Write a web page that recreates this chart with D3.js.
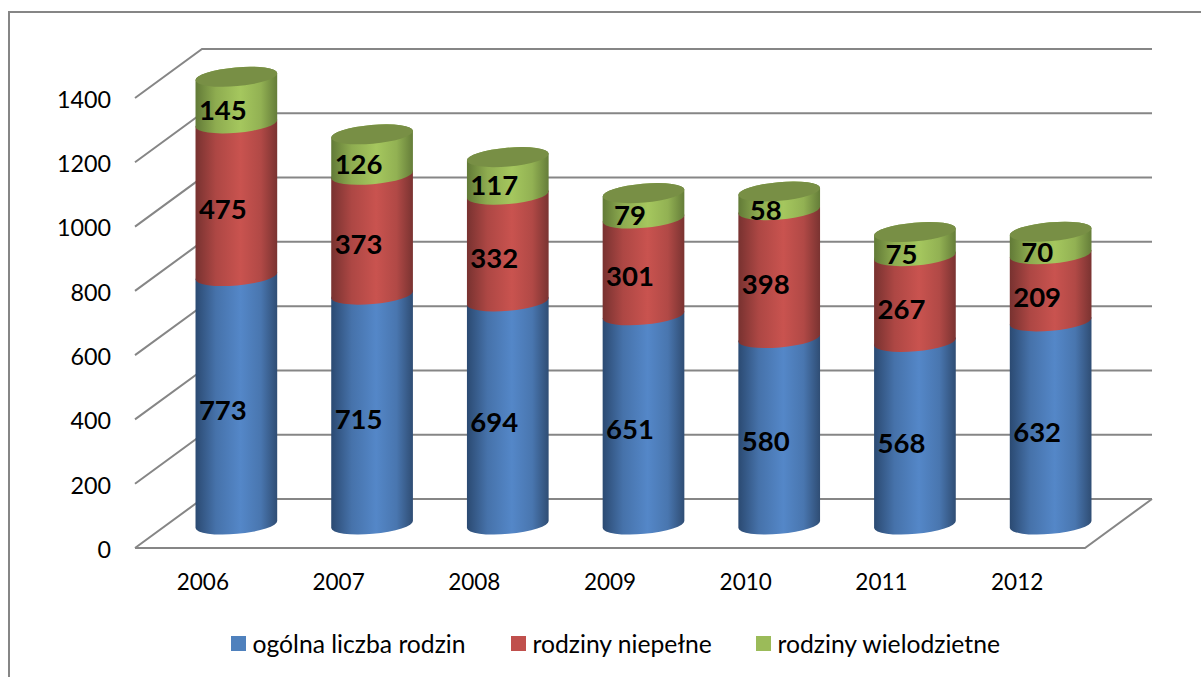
<!DOCTYPE html>
<html>
<head>
<meta charset="utf-8">
<script src="https://cdn.jsdelivr.net/npm/d3@7"></script>
<style>
	html,body{margin:0;padding:0;background:#fff;overflow:hidden;}
	text{font-family:Lato,"Open Sans",sans-serif;fill:#000;}
	.gridline{stroke:#868686;stroke-width:2;fill:none;}
	.value{font-weight:700;font-size:27.5px;text-anchor:middle;dominant-baseline:central;}
	.ylab .tick text{font-size:23.3px;}
	.xlab .tick text{font-size:22.5px;}
	.legend text{font-size:24.7px;}
</style>
</head>
<body>
<script>
var years = ['2006','2007','2008','2009','2010','2011','2012'];
var total = [773,715,694,651,580,568,632];
var single = [475,373,332,301,398,267,209];
var large = [145,126,117,79,58,75,70];
var yTicks = [0,200,400,600,800,1000,1200,1400];
var names = ['ogólna liczba rodzin','rodziny niepełne','rodziny wielodzietne'];
var legendX = [231,511,756];
var colors = [
	{id:'blue',edge:'#2b4a72',mid:'#5487c8',right:'#2f4d74',top:'#3f6797',swatch:'#4f81bd'},
	{id:'red',edge:'#783230',mid:'#c9534f',right:'#7a3331',top:'#9a403d',swatch:'#c0504d'},
	{id:'green',edge:'#627a37',mid:'#a5c75e',right:'#657d39',top:'#788f45',swatch:'#9bbb59'}
];

var W = 1201, H = 677;
var depth = {x:67,y:-49};
var rx = 41, ry = 9.4, tilt = -5;

var svg = d3.select('body').append('svg')
	.attr('width',W)
	.attr('height',H)
	.style('display','block');

var rows = years.map(function(y,i){
	return {year:y,total:total[i],single:single[i],large:large[i]};
});
var keys = ['total','single','large'];
var series = d3.stack().keys(keys)(rows);

var x = d3.scaleBand().domain(years).range([135,1085]).paddingInner(0.4).paddingOuter(0.2);
var y = d3.scaleLinear().domain([0,1400]).range([548,98]);

// cylinder centre sits half way into the depth of the floor
function cx(year){return x(year)+x.bandwidth()/2+depth.x/2;}
function cy(v){return y(v)+depth.y/2+1;}

var defs = svg.append('defs');
colors.forEach(function(c){
	var g = defs.append('linearGradient').attr('id','grad-'+c.id);
	[[0,c.edge],[0.25,d3.interpolateRgb(c.edge,c.mid)(0.65)],[0.55,c.mid],[0.8,d3.interpolateRgb(c.right,c.mid)(0.7)],[1,c.right]]
		.forEach(function(s){
			g.append('stop').attr('offset',s[0]).attr('stop-color',s[1]);
		});
});

// outer frame, runs off the right and bottom of the picture
svg.append('path')
	.attr('d','M'+W+',12H9V'+H)
	.attr('fill','none')
	.attr('stroke','#868686')
	.attr('stroke-width',2);

// gridlines: wall diagonal + back wall
var grid = svg.append('g');
grid.selectAll('.wall')
	.data(yTicks).enter()
	.append('path')
		.attr('class','gridline wall')
		.attr('d',function(d){
			return 'M'+x.range()[0]+','+y(d)
				+'L'+(x.range()[0]+depth.x)+','+(y(d)+depth.y)
				+'H'+(x.range()[1]+depth.x);
		});
// floor front and right edge
grid.append('path')
	.attr('class','gridline')
	.attr('d','M'+x.range()[0]+','+y(0)+'H'+x.range()[1]+'l'+depth.x+','+depth.y);

// y axis labels
var yAxis = svg.append('g')
	.attr('class','ylab')
	.attr('transform','translate(111,0)')
	.call(d3.axisLeft(y).tickValues(yTicks).tickSize(0).tickPadding(0).tickFormat(d3.format('d')));
yAxis.select('.domain').remove();
yAxis.selectAll('text').attr('dy','0.4em').style('fill','#000');

// x axis labels
var xAxis = svg.append('g')
	.attr('class','xlab')
	.attr('transform','translate(0,590)')
	.call(d3.axisBottom(x).tickSize(0).tickPadding(0));
xAxis.select('.domain').remove();
xAxis.selectAll('text').attr('dy',0).style('fill','#000');

function ends(year,v){
	var a = tilt*Math.PI/180;
	var c = cx(year), m = cy(v);
	var dx = rx*Math.cos(a), dy = rx*Math.sin(a);
	return {l:[c-dx,m-dy],r:[c+dx,m+dy]};
}
function segment(year,v0,v1){
	var b = ends(year,v0), t = ends(year,v1);
	return 'M'+b.l
		+'A'+rx+','+ry+' '+tilt+' 0 0 '+b.r
		+'L'+t.r
		+'A'+rx+','+ry+' '+tilt+' 0 0 '+t.l+'Z';
}
function topFace(year,v){
	var t = ends(year,v);
	return 'M'+t.l+'A'+rx+','+ry+' '+tilt+' 1 0 '+t.r+'A'+rx+','+ry+' '+tilt+' 1 0 '+t.l+'Z';
}

// bottom segment first, every upper one overlaps the one below
var layers = svg.selectAll('.layer')
	.data(series).enter()
	.append('g')
		.attr('class','layer');
layers.selectAll('path')
	.data(function(s,i){
		return s.map(function(d){return {year:d.data.year,v0:d[0],v1:d[1],i:i};});
	}).enter()
	.append('path')
		.attr('d',function(d){return segment(d.year,d.v0,d.v1);})
		.attr('fill',function(d){return 'url(#grad-'+colors[d.i].id+')';});

svg.selectAll('.cap')
	.data(series[2]).enter()
	.append('path')
		.attr('class','cap')
		.attr('d',function(d){return topFace(d.data.year,d[1]);})
		.attr('fill',colors[2].top);

// value labels
svg.selectAll('.valuegroup')
	.data(series).enter()
	.append('g')
		.attr('class','valuegroup')
	.selectAll('text')
	.data(function(s){return s;}).enter()
	.append('text')
		.attr('class','value')
		.attr('x',function(d){return cx(d.data.year)-13.5;})
		.attr('y',function(d){return cy((d[0]+d[1])/2)+9;})
		.text(function(d){return d[1]-d[0];});

// legend
var legend = svg.selectAll('.legend')
	.data(names).enter()
	.append('g')
		.attr('class','legend')
		.attr('transform',function(d,i){return 'translate('+legendX[i]+',636)';});
legend.append('rect')
	.attr('width',15)
	.attr('height',15)
	.attr('fill',function(d,i){return colors[i].swatch;});
legend.append('text')
	.attr('x',21.5)
	.attr('y',16.5)
	.text(function(d){return d;});
</script>
</body>
</html>
